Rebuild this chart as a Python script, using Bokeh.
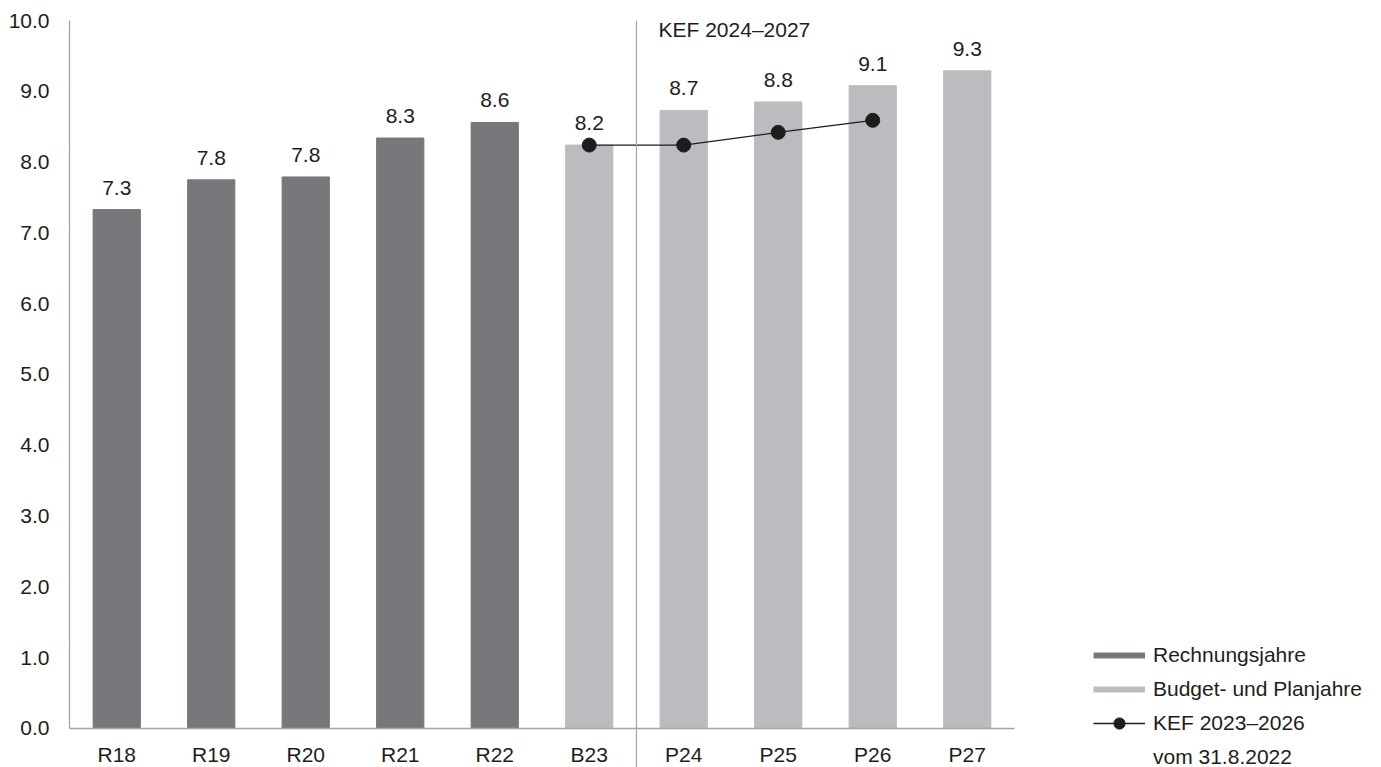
from bokeh.plotting import figure
from bokeh.models import (ColumnDataSource, Range1d, FixedTicker, NumeralTickFormatter,
                          LabelSet, Label, Arrow, Legend, LegendItem)
from bokeh.embed import file_html
from bokeh.resources import INLINE
from bokeh.core.properties import value

# ---- data ----
categories = ["R18", "R19", "R20", "R21", "R22", "B23", "P24", "P25", "P26", "P27"]
actual_categories = ["R18", "R19", "R20", "R21", "R22"]
actual_values = [7.33, 7.75, 7.79, 8.34, 8.56]
actual_labels = ["7.3", "7.8", "7.8", "8.3", "8.6"]
plan_categories = ["B23", "P24", "P25", "P26", "P27"]
plan_values = [8.24, 8.73, 8.85, 9.08, 9.29]
plan_labels = ["8.2", "8.7", "8.8", "9.1", "9.3"]
kef_categories = ["B23", "P24", "P25", "P26"]
kef_values = [8.24, 8.24, 8.42, 8.59]
y_ticks = [0, 1, 2, 3, 4, 5, 6, 7, 8, 9, 10]
header_text = "KEF 2024–2027"
legend_names = ["Rechnungsjahre", "Budget- und Planjahre", "KEF 2023–2026", "vom 31.8.2022"]

DARK = "#77787b"
LIGHT = "#bbbcc0"
INK = "#1d1d1b"
AXIS = "#a3a3a3"
FONT = "Liberation Sans"
FS = "21px"

# category slots on a numeric axis: slot i is centred at i + 0.5
def slot(cat):
    return categories.index(cat) + 0.5

n = len(categories)
divider_position = categories.index("P24")  # boundary between B23 and P24

# the frame spans the whole page (legend area on the right, divider reaching the bottom);
# the axes are bounded to the data region and the x axis is pinned at y = 0
p = figure(x_range=Range1d(0, 13.884), y_range=Range1d(-0.551, 10),
           width=1381, height=767, output_backend="svg", toolbar_location=None,
           min_border_left=69, min_border_right=0, min_border_top=20, min_border_bottom=0)
p.outline_line_color = None
p.xgrid.visible = False
p.ygrid.visible = False
p.background_fill_color = "white"

src_a = ColumnDataSource(dict(x=[slot(c) for c in actual_categories], y=actual_values, t=actual_labels))
src_p = ColumnDataSource(dict(x=[slot(c) for c in plan_categories], y=plan_values, t=plan_labels))
p.vbar(x="x", top="y", width=0.5, source=src_a, color=DARK)
p.vbar(x="x", top="y", width=0.5, source=src_p, color=LIGHT)

for src in (src_a, src_p):
    p.add_layout(LabelSet(x="x", y="y", text="t", source=src, y_offset=15,
                          text_align="center", text_baseline="alphabetic",
                          text_font=value(FONT), text_font_size=value(FS), text_color=INK))

kx = [slot(c) for c in kef_categories]
kef_line = p.line(kx, kef_values, line_color=INK, line_width=1.3)
kef_dots = p.scatter(kx, kef_values, size=14, fill_color=INK, line_color=INK)

# divider
p.add_layout(Arrow(end=None, x_start=divider_position, y_start=10, x_end=divider_position, y_end=-1,
                   line_color=AXIS, line_width=1.2))
p.add_layout(Label(x=divider_position, y=9.87, x_offset=22, text=header_text, text_align="left",
                   text_baseline="alphabetic", text_font=FONT, text_font_size=FS,
                   text_color=INK))

# axes
p.yaxis.ticker = FixedTicker(ticks=y_ticks)
p.yaxis.formatter = NumeralTickFormatter(format="0.0")
p.yaxis.bounds = (0, 10)
p.xaxis.ticker = FixedTicker(ticks=[slot(c) for c in categories])
p.xaxis.major_label_overrides = {slot(c): c for c in categories}
p.xaxis.bounds = (0, n)
p.xaxis.fixed_location = 0
for ax in (p.xaxis[0], p.yaxis[0]):
    ax.axis_line_color = AXIS
    ax.axis_line_width = 1.3
    ax.major_tick_line_color = None
    ax.minor_tick_line_color = None
    ax.major_tick_out = 0
    ax.major_tick_in = 0
    ax.major_label_text_font = FONT
    ax.major_label_text_font_size = FS
    ax.major_label_text_color = INK
p.yaxis.major_label_standoff = 20
p.xaxis.major_label_standoff = 15

# legend (swatch proxies carry no visible data)
nan = float("nan")
sw_a = p.line(x=[0.5], y=[nan], line_color=DARK, line_width=6)
sw_p = p.line(x=[0.5], y=[nan], line_color=LIGHT, line_width=6)
sw_none = p.line(x=[0.5], y=[nan], line_alpha=0)
legend = Legend(items=[LegendItem(label=legend_names[0], renderers=[sw_a]),
                       LegendItem(label=legend_names[1], renderers=[sw_p]),
                       LegendItem(label=legend_names[2], renderers=[kef_line, kef_dots]),
                       LegendItem(label=legend_names[3], renderers=[sw_none])],
                location=(1024, -4), orientation="vertical",
                glyph_width=52, glyph_height=28, label_height=28, spacing=6,
                label_standoff=8, padding=0, margin=0,
                border_line_color=None, background_fill_alpha=0,
                label_text_font=FONT, label_text_font_size=FS, label_text_color=INK)
p.add_layout(legend)

open("out.html", "w").write(file_html(p, INLINE))
